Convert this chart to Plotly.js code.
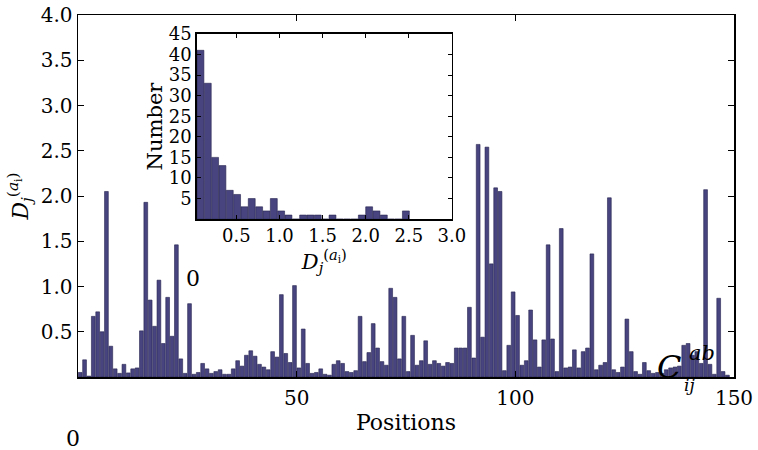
<!DOCTYPE html>
<html>
<head>
<meta charset="utf-8">
<script src="https://cdn.plot.ly/plotly-3.0.1.min.js"></script>
<style>
  body { margin: 0; background: #fff; }
  #chart { width: 758px; height: 450px; }
</style>
</head>
<body>
<div id="chart"></div>
<script>
// D_j values per position, bar k covers [k, k+1]
let dValues = [
    0.05, 0.19, 0.01, 0.67, 0.72, 0.50, 2.05, 0.34, 0.09, 0.04,
    0.14, 0.045, 0.09, 0.10, 0.51, 1.93, 0.85, 0.56, 1.07, 0.37,
    0.88, 0.45, 1.46, 0.20, 0.04, 0.81, 0.03, 0.05, 0.15, 0.09,
    0.04, 0.06, 0.08, 0.03, 0.03, 0.09, 0.18, 0.12, 0.24, 0.29,
    0.23, 0.14, 0.11, 0.08, 0.28, 0.22, 0.91, 0.26, 0.16, 1.01,
    0.10, 0.53, 0.15, 0.04, 0.05, 0.09, 0.03, 0.02, 0.14, 0.18,
    0.15, 0.06, 0.05, 0.07, 0.67, 0.17, 0.27, 0.59, 0.32, 0.17,
    0.13, 0.98, 0.88, 0.20, 0.67, 0.06, 0.46, 0.13, 0.18, 0.40,
    0.14, 0.18, 0.15, 0.12, 0.16, 0.15, 0.32, 0.32, 0.32, 0.77,
    0.21, 2.57, 0.44, 2.54, 1.25, 2.09, 2.05, 0.07, 0.35, 0.94,
    0.68, 0.13, 0.18, 0.74, 0.41, 0.11, 0.41, 1.46, 0.42, 0.06,
    1.64, 0.10, 0.11, 0.30, 0.10, 0.28, 0.32, 1.36, 0.08, 0.13,
    0.16, 1.98, 0.08, 0.05, 0.11, 0.64, 0.28, 0.06, 0.03, 0.16,
    0.07, 0.04, 0.05, 0.04, 0.08, 0.10, 0.11, 0.12, 0.35, 0.37,
    0.24, 0.28, 0.15, 2.07, 0.14, 0.03, 0.87, 0.06, 0.02
];
let positions = dValues.map((v, i) => i + 0.5);

// inset histogram
let binCenters = [
    0.083, 0.168, 0.253, 0.338, 0.423, 0.508, 0.593, 0.678, 0.764, 0.849,
    0.934, 1.019, 1.104, 1.189, 1.274, 1.359, 1.444, 1.529, 1.615, 1.700,
    1.785, 1.870, 1.955, 2.040, 2.125, 2.210, 2.295, 2.380, 2.466
];
let binCounts = [
    41, 33, 15, 13, 7, 6, 3, 5, 3, 2,
    5, 2, 1, 0, 1, 1, 1, 0, 1, 0,
    0, 0, 1, 3, 2, 1, 0, 0, 2
];

let mainTicks = [50, 100, 150];
let mainYTicks = [0.5, 1.0, 1.5, 2.0, 2.5, 3.0, 3.5, 4.0];
let mainYLabels = ['0.5', '1.0', '1.5', '2.0', '2.5', '3.0', '3.5', '4.0'];
let insetXTicks = [0.5, 1.0, 1.5, 2.0, 2.5, 3.0];
let insetXLabels = ['0.5', '1.0', '1.5', '2.0', '2.5', '3.0'];
let insetYTicks = [5, 10, 15, 20, 25, 30, 35, 40, 45];

let serif = 'DejaVu Serif, Liberation Serif, serif';
let barColor = '#47447f';
let edgeColor = '#26244f';

let trace1 = {
    x: positions,
    y: dValues,
    type: 'bar',
    width: 0.86,
    marker: { color: barColor, line: { color: edgeColor, width: 0.6 } },
    xaxis: 'x',
    yaxis: 'y',
    hoverinfo: 'skip',
};
let trace2 = {
    x: binCenters,
    y: binCounts,
    type: 'bar',
    width: 0.08,
    marker: { color: barColor, line: { color: edgeColor, width: 0.6 } },
    xaxis: 'x2',
    yaxis: 'y2',
    hoverinfo: 'skip',
};

let axisCommon = {
    showline: true,
    linecolor: '#000',
    linewidth: 1.5,
    mirror: 'ticks',
    ticks: 'inside',
    ticklen: 6,
    tickwidth: 1,
    tickcolor: '#000',
    showgrid: false,
    zeroline: false,
    tickfont: { family: serif, size: 20, color: '#000' },
};

let layout = {
    width: 758,
    height: 450,
    margin: { l: 78, r: 24, t: 15, b: 73 },
    paper_bgcolor: '#fff',
    plot_bgcolor: '#fff',
    showlegend: false,
    font: { family: serif, color: '#000' },
    xaxis: Object.assign({}, axisCommon, {
        domain: [0, 1],
        range: [0, 150],
        tickvals: mainTicks,
        ticklabelstandoff: 2,
        title: { text: 'Positions', font: { family: serif, size: 22 }, standoff: 6 },
    }),
    yaxis: Object.assign({}, axisCommon, {
        domain: [0, 1],
        range: [0, 4],
        tickvals: mainYTicks,
        ticktext: mainYLabels,
        title: {
            text: '<i>D</i><sub><i>j</i></sub><sup>(<i>a</i><sub>i</sub>)</sup>',
            font: { family: serif, size: 22 },
            standoff: 6,
        },
    }),
    xaxis2: Object.assign({}, axisCommon, {
        domain: [0.181, 0.570],
        anchor: 'y2',
        range: [0.04, 3.0],
        tickvals: insetXTicks,
        ticktext: insetXLabels,
        ticklen: 4,
        tickfont: { family: serif, size: 18, color: '#000' },
        title: {
            text: '<i>D</i><sub><i>j</i></sub><sup>(<i>a</i><sub>i</sub>)</sup>',
            font: { family: serif, size: 21 },
            standoff: 2,
        },
    }),
    yaxis2: Object.assign({}, axisCommon, {
        domain: [0.436, 0.948],
        anchor: 'x2',
        range: [0, 45],
        tickvals: insetYTicks,
        ticklen: 4,
        tickfont: { family: serif, size: 18, color: '#000' },
        title: { text: 'Number', font: { family: serif, size: 21 }, standoff: 0 },
    }),
    annotations: [
        { text: '0', xref: 'paper', yref: 'paper', x: 0.162, y: 0.232, showarrow: false,
          font: { family: serif, size: 22 } },
        { text: '0', xref: 'paper', yref: 'paper', x: -0.022, y: -0.21, showarrow: false,
          font: { family: serif, size: 22 } },
        { text: '<i>C</i>', xref: 'paper', yref: 'paper', x: 0.923, y: -0.03, showarrow: false,
          font: { family: serif, size: 32 } },
        { text: '<i>ij</i>', xref: 'paper', yref: 'paper', x: 0.944, y: -0.055, showarrow: false,
          font: { family: serif, size: 17 } },
        { text: '<i>ab</i>', xref: 'paper', yref: 'paper', x: 0.974, y: 0.027, showarrow: false,
          font: { family: serif, size: 21 } },
    ],
};

Plotly.newPlot('chart', [trace1, trace2], layout, { displayModeBar: false, staticPlot: true });
</script>
</body>
</html>
